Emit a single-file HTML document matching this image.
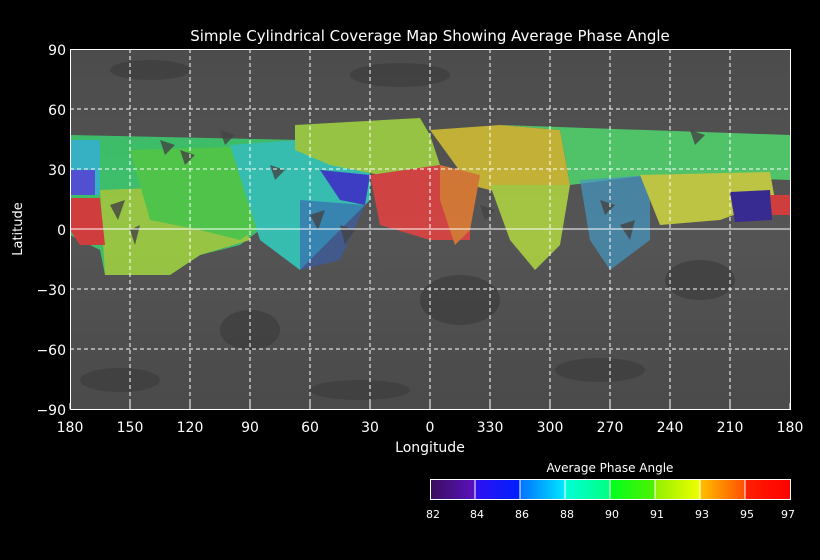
<!DOCTYPE html>
<html><head><style>
html,body{margin:0;padding:0;background:#000;}
svg{display:block;font-family:"DejaVu Sans","Liberation Sans",sans-serif;}
</style></head><body>
<svg width="820" height="560" viewBox="0 0 820 560" xmlns="http://www.w3.org/2000/svg">
<defs>
<linearGradient id="g1"><stop offset="0" stop-color="#3a0f5a"/><stop offset="1" stop-color="#5a10c0"/></linearGradient>
<linearGradient id="g2"><stop offset="0" stop-color="#3010f0"/><stop offset="1" stop-color="#0020ff"/></linearGradient>
<linearGradient id="g3"><stop offset="0" stop-color="#0070ff"/><stop offset="1" stop-color="#00e8ff"/></linearGradient>
<linearGradient id="g4"><stop offset="0" stop-color="#00ffd8"/><stop offset="1" stop-color="#00ff80"/></linearGradient>
<linearGradient id="g5"><stop offset="0" stop-color="#00ff20"/><stop offset="1" stop-color="#50f000"/></linearGradient>
<linearGradient id="g6"><stop offset="0" stop-color="#90f000"/><stop offset="1" stop-color="#f0ff00"/></linearGradient>
<linearGradient id="g7"><stop offset="0" stop-color="#ffc000"/><stop offset="1" stop-color="#ff5000"/></linearGradient>
<linearGradient id="g8"><stop offset="0" stop-color="#ff2000"/><stop offset="1" stop-color="#ff0000"/></linearGradient>
<linearGradient id="bg" x1="0" y1="0" x2="0" y2="1">
<stop offset="0" stop-color="#4c4c4c"/><stop offset="0.5" stop-color="#555"/><stop offset="1" stop-color="#4a4a4a"/></linearGradient>
</defs>
<text x="430" y="41" fill="#fff" font-size="15" text-anchor="middle">Simple Cylindrical Coverage Map Showing Average Phase Angle</text>
<rect x="70" y="49" width="720" height="360" fill="url(#bg)"/>
<g fill="#3a3a3a" opacity="0.6">
<ellipse cx="150" cy="70" rx="40" ry="10"/><ellipse cx="400" cy="75" rx="50" ry="12"/>
<ellipse cx="600" cy="370" rx="45" ry="12"/><ellipse cx="250" cy="330" rx="30" ry="20"/>
<ellipse cx="460" cy="300" rx="40" ry="25"/><ellipse cx="700" cy="280" rx="35" ry="20"/>
<ellipse cx="120" cy="380" rx="40" ry="12"/><ellipse cx="360" cy="390" rx="50" ry="10"/>
</g>
<g opacity="0.8">
<polygon points="70,135 300,140 300,200 240,245 200,255 170,275 105,275 100,250 70,235" fill="#3ad870"/>
<polygon points="100,190 230,185 250,240 200,255 170,275 105,275" fill="#a8e040"/>
<polygon points="130,150 300,145 300,200 240,240 200,230 150,220" fill="#50e048"/>
<polygon points="70,140 100,140 100,195 70,195" fill="#30c8e0"/>
<polygon points="70,170 95,170 95,195 70,195" fill="#5050f0"/>
<polygon points="70,198 100,198 105,245 80,245 70,230" fill="#f03838"/>
<polygon points="230,145 300,140 370,170 370,200 330,240 300,270 260,240" fill="#30d8c8"/>
<polygon points="320,170 370,175 365,205 340,200" fill="#3838e0"/>
<polygon points="300,200 365,205 340,260 300,270" fill="#3060c8" opacity="0.6"/>
<polygon points="295,125 420,118 430,135 440,165 380,175 330,165 295,150" fill="#a8e040"/>
<polygon points="370,175 440,165 470,180 470,240 430,240 380,225" fill="#f04040"/>
<polygon points="430,130 500,125 560,130 570,185 510,195 470,185" fill="#e0c830"/>
<polygon points="440,165 480,175 470,230 455,245 440,200" fill="#f08030"/>
<polygon points="490,185 570,185 560,245 535,270 510,240" fill="#b8e040"/>
<polygon points="500,125 790,135 790,180 650,175 570,185 560,130" fill="#50e070"/>
<polygon points="580,180 650,175 650,240 610,270 590,240" fill="#40a8e0" opacity="0.7"/>
<polygon points="640,175 770,172 775,200 720,220 660,225" fill="#d8e040"/>
<polygon points="730,192 770,190 772,220 735,222" fill="#3020a0"/>
<polygon points="770,195 790,195 790,215 772,215" fill="#f03838"/>
</g>
<g fill="#444" opacity="0.8">
<polygon points="110,205 125,200 118,220"/><polygon points="130,230 140,225 135,245"/>
<polygon points="180,150 195,155 185,165"/><polygon points="270,165 285,170 275,180"/>
<polygon points="310,215 325,210 318,230"/><polygon points="340,225 355,230 345,245"/>
<polygon points="480,205 495,210 485,220"/><polygon points="600,200 615,205 605,215"/>
<polygon points="620,225 635,220 630,240"/><polygon points="690,130 705,135 695,145"/>
<polygon points="220,130 235,135 225,145"/><polygon points="160,140 175,145 165,155"/>
</g>
<g stroke="#fff" stroke-width="1" stroke-dasharray="4,3" fill="none">
<path d="M130,49V409M190,49V409M250,49V409M310,49V409M370,49V409M430,49V409M490,49V409M550,49V409M610,49V409M670,49V409M730,49V409"/>
<path d="M70,109H790M70,169H790M70,289H790M70,349H790"/>
</g>
<path d="M70,229H790" stroke="#fff" stroke-width="1"/>
<rect x="70.5" y="49.5" width="720" height="360" fill="none" stroke="#fff"/>
<g stroke="#fff">
<path d="M70,409v-6M130,409v-6M190,409v-6M250,409v-6M310,409v-6M370,409v-6M430,409v-6M490,409v-6M550,409v-6M610,409v-6M670,409v-6M730,409v-6M790,409v-6"/>
</g>
<g fill="#fff" font-size="14" text-anchor="end">
<text x="66" y="55">90</text><text x="66" y="115">60</text><text x="66" y="175">30</text><text x="66" y="235">0</text>
<text x="66" y="295">−30</text><text x="66" y="355">−60</text><text x="66" y="415">−90</text>
</g>
<g fill="#fff" font-size="14" text-anchor="middle">
<text x="70" y="432">180</text><text x="130" y="432">150</text><text x="190" y="432">120</text><text x="250" y="432">90</text>
<text x="310" y="432">60</text><text x="370" y="432">30</text><text x="430" y="432">0</text><text x="490" y="432">330</text>
<text x="550" y="432">300</text><text x="610" y="432">270</text><text x="670" y="432">240</text><text x="730" y="432">210</text><text x="790" y="432">180</text>
<text x="430" y="452">Longitude</text>
</g>
<text transform="translate(22,229) rotate(-90)" fill="#fff" font-size="13" text-anchor="middle">Latitude</text>
<text x="610" y="472" fill="#fff" font-size="12" text-anchor="middle">Average Phase Angle</text>
<rect x="430" y="479" width="45" height="20" fill="url(#g1)"/>
<rect x="475" y="479" width="45" height="20" fill="url(#g2)"/>
<rect x="520" y="479" width="45" height="20" fill="url(#g3)"/>
<rect x="565" y="479" width="45" height="20" fill="url(#g4)"/>
<rect x="610" y="479" width="45" height="20" fill="url(#g5)"/>
<rect x="655" y="479" width="45" height="20" fill="url(#g6)"/>
<rect x="700" y="479" width="45" height="20" fill="url(#g7)"/>
<rect x="745" y="479" width="45" height="20" fill="url(#g8)"/>
<g stroke="#fff"><path d="M475,479v20M520,479v20M565,479v20M610,479v20M655,479v20M700,479v20M745,479v20"/></g>
<rect x="430.5" y="479.5" width="360" height="20" fill="none" stroke="#fff"/>
<g fill="#fff" font-size="11" text-anchor="middle">
<text x="433" y="518">82</text><text x="477" y="518">84</text><text x="522" y="518">86</text><text x="567" y="518">88</text>
<text x="612" y="518">90</text><text x="657" y="518">91</text><text x="702" y="518">93</text><text x="747" y="518">95</text><text x="788" y="518">97</text>
</g>
</svg>
</body></html>
